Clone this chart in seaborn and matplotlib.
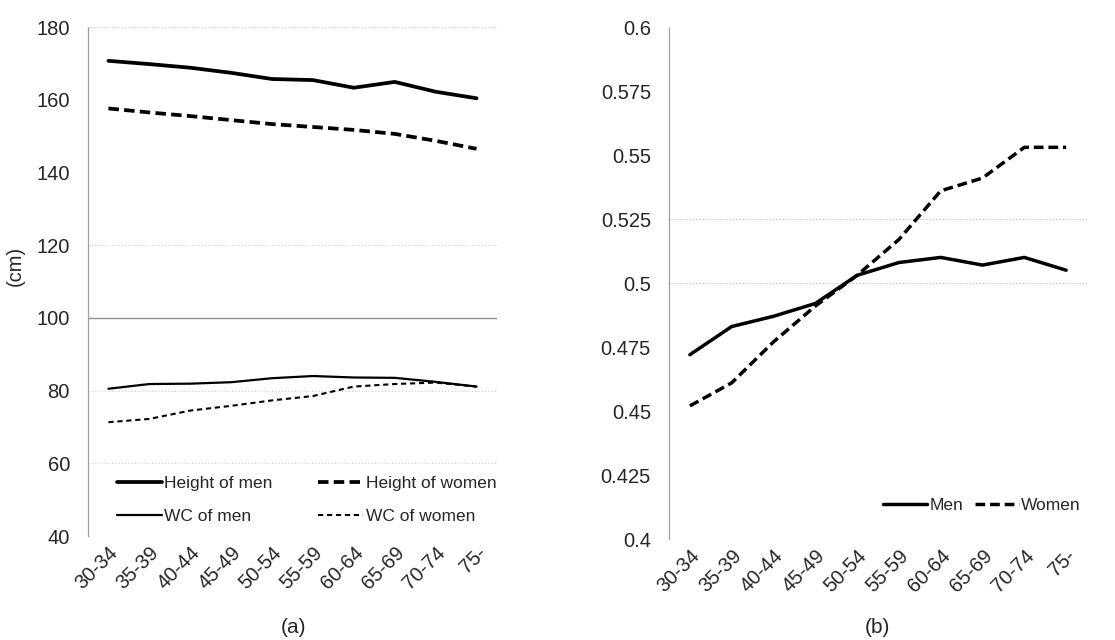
import pandas as pd
import matplotlib
matplotlib.use("Agg")
import matplotlib.pyplot as plt
import seaborn as sns

# Age groups
ages = ["30-34", "35-39", "40-44", "45-49", "50-54", "55-59", "60-64", "65-69", "70-74", "75-"]

# Panel (a): height and waist circumference (cm)
height_men = [170.7, 169.8, 168.8, 167.4, 165.7, 165.4, 163.3, 164.9, 162.2, 160.4]
height_women = [157.6, 156.5, 155.5, 154.4, 153.3, 152.5, 151.7, 150.6, 148.7, 146.5]
wc_men = [80.5, 81.8, 81.9, 82.3, 83.4, 84.0, 83.6, 83.5, 82.4, 81.1]
wc_women = [71.3, 72.2, 74.5, 75.8, 77.3, 78.5, 81.1, 81.8, 82.2, 81.1]

# Panel (b): waist-to-height ratio
ratio_men = [0.472, 0.483, 0.487, 0.492, 0.503, 0.508, 0.510, 0.507, 0.510, 0.505]
ratio_women = [0.452, 0.461, 0.477, 0.491, 0.503, 0.517, 0.536, 0.541, 0.553, 0.553]

df = pd.DataFrame({
    "age": ages,
    "height_men": height_men, "height_women": height_women,
    "wc_men": wc_men, "wc_women": wc_women,
    "ratio_men": ratio_men, "ratio_women": ratio_women,
})

sns.set_style("white")
plt.rcParams["font.family"] = ["Liberation Sans", "DejaVu Sans"]

fig = plt.figure(figsize=(11.15, 6.4), dpi=100)
ax1 = fig.add_axes([0.0789, 0.1625, 0.3668, 0.7953])
ax2 = fig.add_axes([0.600, 0.1578, 0.3749, 0.8000])

# ---- panel (a)
sns.lineplot(data=df, x="age", y="height_men", ax=ax1, color="black", lw=2.7,
             label="Height of men", sort=False)
sns.lineplot(data=df, x="age", y="height_women", ax=ax1, color="black", lw=2.7,
             linestyle=(0, (2.8, 1.4)), label="Height of women", sort=False)
sns.lineplot(data=df, x="age", y="wc_men", ax=ax1, color="black", lw=1.6,
             label="WC of men", sort=False)
sns.lineplot(data=df, x="age", y="wc_women", ax=ax1, color="black", lw=1.5,
             linestyle=(0, (2.5, 1.8)), label="WC of women", sort=False)

ax1.set_ylim(40, 180)
ax1.set_yticks(range(40, 181, 20))
ax1.set_xlim(-0.5, 9.5)
ax1.set_ylabel("(cm)", fontsize=14.5)
ax1.yaxis.set_label_coords(-0.155, 0.53)
for v in [60, 80, 120, 180]:
    ax1.axhline(v, color="#c8c8c8", lw=0.8, ls=(0, (1, 2)), zorder=0)
ax1.axhline(100, color="#909090", lw=1.0, zorder=0)

h, l = ax1.get_legend_handles_labels()
order = [0, 2, 1, 3]
ax1.legend([h[i] for i in order], [l[i] for i in order],
           loc="upper left", bbox_to_anchor=(0.07, 0.118), ncol=2, frameon=False,
           fontsize=12.5, handlelength=2.6, handletextpad=0.15, columnspacing=2.6,
           labelspacing=1.05, borderpad=0, borderaxespad=0)

# ---- panel (b)
sns.lineplot(data=df, x="age", y="ratio_men", ax=ax2, color="black", lw=2.5,
             label="Men", sort=False)
sns.lineplot(data=df, x="age", y="ratio_women", ax=ax2, color="black", lw=2.5,
             linestyle=(0, (2.8, 1.4)), label="Women", sort=False)

ax2.set_ylim(0.4, 0.6)
ticks_b = [0.4, 0.425, 0.45, 0.475, 0.5, 0.525, 0.55, 0.575, 0.6]
ax2.set_yticks(ticks_b)
ax2.set_yticklabels(["0.4", "0.425", "0.45", "0.475", "0.5", "0.525", "0.55", "0.575", "0.6"])
ax2.set_xlim(-0.5, 9.5)
ax2.set_ylabel("")
for v in [0.5, 0.525]:
    ax2.axhline(v, color="#b8b8b8", lw=0.8, ls=(0, (1, 2)), zorder=0)

ax2.legend(loc="center right", bbox_to_anchor=(0.985, 0.066), ncol=2, frameon=False,
           fontsize=12.5, handlelength=2.5, handletextpad=0.15, columnspacing=0.7,
           borderpad=0, borderaxespad=0)

for ax in (ax1, ax2):
    ax.set_xlabel("")
    for s in ["top", "right", "bottom"]:
        ax.spines[s].set_visible(False)
    ax.spines["left"].set_color("#a0a0a0")
    ax.spines["left"].set_linestyle((0, (1, 1)))
    ax.spines["left"].set_linewidth(0.9)
    ax.tick_params(axis="both", length=0, labelsize=14.5)
    ax.tick_params(axis="y", pad=13)
    ax.tick_params(axis="x", pad=5)
    plt.setp(ax.get_xticklabels(), rotation=45, ha="right", rotation_mode="anchor")
    ax.grid(False)

fig.text(0.263, 0.019, "(a)", ha="center", va="center", fontsize=15)
fig.text(0.787, 0.019, "(b)", ha="center", va="center", fontsize=15)

fig.savefig("out.png", dpi=100)
